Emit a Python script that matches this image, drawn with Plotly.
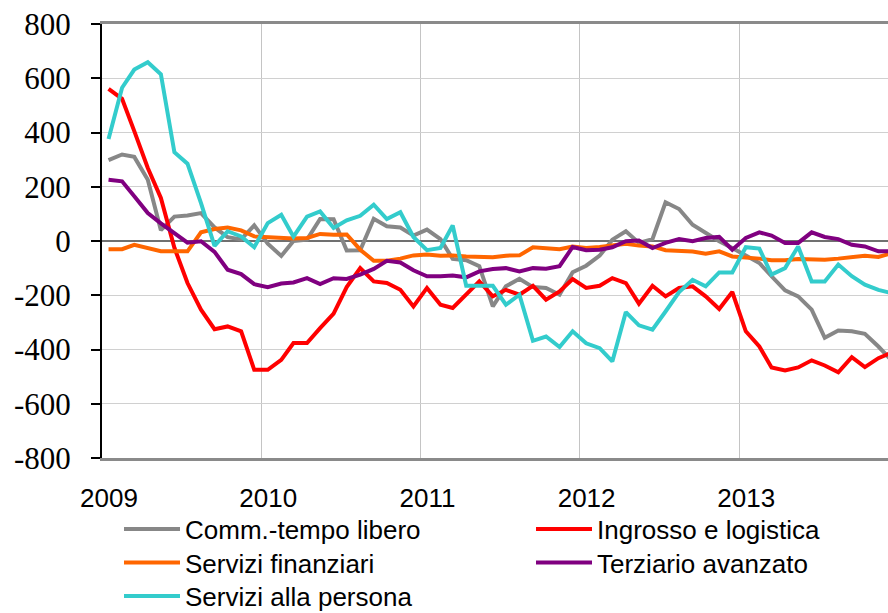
import plotly.graph_objects as go
import pandas as pd

# monthly series, Jan 2009 - Dec 2013
months = pd.date_range("2009-01-01", periods=60, freq="MS") + pd.Timedelta(days=15)

comm_tempo_libero = [298, 319, 310, 226, 40, 90, 94, 103, 50, 14, 6, 58,
                     -10, -55, 0, 5, 81, 80, -35, -34, 82, 54, 50, 20,
                     42, 7, -66, -71, -93, -241, -167, -139, -170, -173, -198, -115,
                     -91, -54, 5, 36, -7, 7, 143, 118, 60, 30, -1, -26,
                     -54, -81, -130, -182, -204, -253, -357, -330, -333, -342, -389, -440]
ingrosso_logistica = [561, 524, 405, 269, 159, -25, -155, -253, -325, -315, -333, -475,
                      -475, -438, -376, -376, -321, -268, -170, -100, -149, -155, -180, -241,
                      -173, -235, -247, -198, -149, -204, -180, -198, -165, -216, -186, -140,
                      -173, -165, -137, -155, -231, -165, -204, -173, -167, -204, -251, -188,
                      -333, -389, -466, -477, -466, -440, -459, -484, -428, -465, -432, -412]
servizi_finanziari = [-30, -30, -14, -26, -38, -38, -38, 32, 44, 50, 39, 17,
                      14, 11, 9, 11, 26, 23, 24, -32, -73, -73, -65, -53,
                      -50, -54, -53, -57, -60, -60, -54, -53, -23, -28, -30, -20,
                      -26, -22, -17, -10, -17, -20, -34, -38, -39, -47, -38, -57,
                      -60, -65, -71, -71, -66, -69, -69, -65, -59, -54, -59, -45]
terziario_avanzato = [226, 220, 165, 103, 65, 30, -6, -1, -40, -106, -122, -159,
                      -170, -157, -153, -137, -159, -137, -140, -124, -103, -73, -79, -108,
                      -130, -130, -127, -134, -112, -103, -100, -112, -100, -102, -93, -22,
                      -34, -32, -23, -1, 2, -26, -7, 7, -1, 11, 15, -32,
                      11, 32, 20, -7, -7, 32, 15, 7, -14, -20, -38, -38]
servizi_persona = [376, 565, 632, 659, 615, 327, 285, 140, -18, 36, 17, -23,
                   66, 97, 16, 90, 109, 48, 76, 93, 134, 81, 106, 15,
                   -34, -26, 57, -165, -165, -165, -235, -198, -368, -352, -391, -333,
                   -377, -395, -444, -262, -311, -327, -260, -188, -143, -167, -116, -116,
                   -23, -28, -124, -100, -20, -149, -149, -87, -130, -161, -180, -192]

series_names = ["Comm.-tempo libero", "Ingrosso e logistica", "Servizi finanziari",
                "Terziario avanzato", "Servizi alla persona"]
series_values = [comm_tempo_libero, ingrosso_logistica, servizi_finanziari,
                 terziario_avanzato, servizi_persona]
colors = ["#878787", "#ff0000", "#ff6600", "#800080", "#33cccc"]

year_ticks = ["2009-01-01", "2010-01-01", "2011-01-01", "2012-01-01", "2013-01-01"]
year_labels = ["2009", "2010", "2011", "2012", "2013"]
y_ticks = [-800, -600, -400, -200, 0, 200, 400, 600, 800]
y_labels = [str(v) for v in y_ticks]

sans = "Liberation Sans Narrow, Arial Narrow, Liberation Sans, Arial, sans-serif"
serif = "Liberation Serif, Times New Roman, serif"

# legend grid: two columns, three rows (one legend box per entry)
legend_ids = ["legend", "legend2", "legend3", "legend4", "legend5"]
legend_x = [119, 531, 119, 531, 119]
legend_y = [529, 529, 562.5, 562.5, 596]

fig = go.Figure()
for name, vals, color, leg in zip(series_names, series_values, colors, legend_ids):
    fig.add_trace(go.Scatter(x=months, y=vals, name=name, mode="lines", showlegend=True,
                             line=dict(color=color, width=4), legend=leg))

legends = {}
for leg, lx, ly in zip(legend_ids, legend_x, legend_y):
    legends[leg] = dict(orientation="h", xref="container", yref="container",
                        xanchor="left", yanchor="middle", x=lx / 888, y=1 - ly / 613,
                        font=dict(family=sans, size=26, color="black"),
                        itemwidth=56, bgcolor="rgba(0,0,0,0)", borderwidth=0)

fig.update_layout(
    width=888, height=613,
    showlegend=True,
    margin=dict(l=102, r=0, t=24, b=155),
    plot_bgcolor="white", paper_bgcolor="white",
    xaxis=dict(type="date", range=["2009-01-01", "2013-12-08"],
               tickvals=year_ticks, ticktext=year_labels, automargin=False,
               showgrid=True, gridcolor="#c4c4c4", gridwidth=1,
               showline=True, mirror=True, linecolor="#8a8a8a", linewidth=2.5,
               ticks="", ticklabelshift=7, ticklabelstandoff=15,
               tickfont=dict(family=sans, size=26, color="black")),
    xaxis2=dict(type="date", overlaying="x", matches="x", anchor="free", position=0.5,
                tickvals=year_ticks, showticklabels=False, showgrid=False,
                ticks="outside", ticklen=8, tickwidth=1.5, tickcolor="black"),
    yaxis=dict(range=[-800, 800], tickvals=y_ticks, ticktext=y_labels, automargin=False,
               showgrid=True, gridcolor="#d0d0d0", gridwidth=1,
               zeroline=True, zerolinecolor="#707070", zerolinewidth=2,
               showline=True, linecolor="black", linewidth=2,
               ticks="outside", ticklen=9, tickwidth=1.5, tickcolor="black",
               ticklabelstandoff=14,
               tickfont=dict(family=serif, size=31, color="black")),
    **legends,
)

fig.write_html("out.html", config={"displayModeBar": False},
               post_script="document.body.style.margin = '0';")
